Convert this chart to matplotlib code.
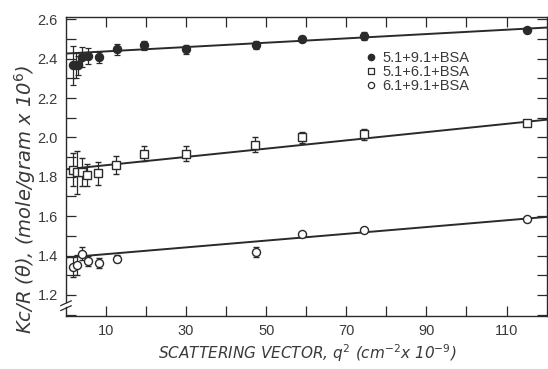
import matplotlib
matplotlib.use("Agg")
import matplotlib.pyplot as plt
import numpy as np
from matplotlib.lines import Line2D

# ---- data ----
labels = ["5.1+9.1+BSA", "5.1+6.1+BSA", "6.1+9.1+BSA"]

x1 = [1.8, 2.5, 3.1, 4.1, 5.5, 8.3, 12.8, 19.4, 30.0, 47.4, 59.0, 74.4, 115.0]
y1 = [2.366, 2.366, 2.366, 2.410, 2.412, 2.406, 2.448, 2.468, 2.448, 2.468, 2.498, 2.515, 2.548]
e1 = [0.10, 0.065, 0.05, 0.05, 0.04, 0.03, 0.028, 0.022, 0.022, 0.02, 0.015, 0.02, 0.008]

x2 = [1.8, 2.7, 3.9, 5.3, 8.0, 12.6, 19.4, 30.0, 47.2, 59.0, 74.4, 115.0]
y2 = [1.837, 1.822, 1.825, 1.808, 1.817, 1.859, 1.918, 1.918, 1.964, 2.000, 2.016, 2.074]
e2 = [0.085, 0.11, 0.07, 0.055, 0.06, 0.045, 0.04, 0.038, 0.036, 0.03, 0.027, 0.015]

x3 = [1.8, 2.8, 3.9, 5.5, 8.3, 12.8, 47.4, 59.0, 74.4, 115.0]
y3 = [1.343, 1.351, 1.410, 1.372, 1.363, 1.385, 1.416, 1.512, 1.529, 1.586]
e3 = [0.05, 0.05, 0.035, 0.027, 0.025, 0.02, 0.025, 0.01, 0.01, 0.008]

fit_intercepts = [2.426, 1.838, 1.390]
fit_slopes = [0.0011, 0.0021, 0.00172]

xticks = [10, 20, 30, 40, 50, 60, 70, 80, 90, 100, 110]
xtick_labels = ["10", "", "30", "", "50", "", "70", "", "90", "", "110"]
yticks = [1.2, 1.4, 1.6, 1.8, 2.0, 2.2, 2.4, 2.6]
ytick_labels = ["1.2", "1.4", "1.6", "1.8", "2.0", "2.2", "2.4", "2.6"]

# ---- figure ----
ink = "#2a2a2a"
txt = "#3a3a3a"
fig = plt.figure(figsize=(5.48, 3.69), dpi=100)
ax = fig.add_axes([0.1204, 0.1436, 0.877, 0.810])
ax.set_xlim(0, 120)
ax.set_ylim(1.093, 2.611)

xx = np.array([0, 120])
for b, m in zip(fit_intercepts, fit_slopes):
    ax.plot(xx, b + m * xx, color=ink, lw=1.4, zorder=2)

common = dict(ls="none", ecolor=ink, elinewidth=0.9, capsize=2.5, capthick=0.9, zorder=3)
ax.errorbar(x1, y1, yerr=e1, fmt="o", ms=5.8, mfc=ink, mec=ink, **common)
ax.errorbar(x2, y2, yerr=e2, fmt="s", ms=5.5, mfc="white", mec=ink, mew=1.0, **common)
ax.errorbar(x3, y3, yerr=e3, fmt="o", ms=5.8, mfc="white", mec=ink, mew=1.0, **common)

# ticks
ax.set_xticks(xticks)
ax.set_xticklabels(xtick_labels, fontfamily="Liberation Sans")
ax.set_yticks(yticks)
ax.set_yticklabels(ytick_labels, fontfamily="Liberation Sans")
ax.set_yticks(np.arange(1.1, 2.61, 0.1), minor=True)
ax.tick_params(axis="both", which="both", direction="in", top=True, right=True,
               colors=ink, labelcolor=txt, labelsize=10.5, width=0.9)
ax.tick_params(axis="both", which="major", length=7, pad=6)
ax.tick_params(axis="y", which="minor", length=7)
for s in ax.spines.values():
    s.set_color(ink)
    s.set_linewidth(1.0)

# axis-break mark on left spine
ax.spines["left"].set_bounds(1.162, 2.611)
ax.plot([0, 0], [1.093, 1.138], color=ink, lw=1.0, clip_on=False, zorder=5)
for yb in (1.133, 1.158):
    ax.plot([-1.3, 1.3], [yb - 0.012, yb + 0.012], color=ink, lw=0.9,
            clip_on=False, zorder=5)

# legend
handles = [
    Line2D([], [], ls="none", marker="o", ms=4.5, mfc=ink, mec=ink),
    Line2D([], [], ls="none", marker="s", ms=4.5, mfc="white", mec=ink, mew=0.9),
    Line2D([], [], ls="none", marker="o", ms=4.5, mfc="white", mec=ink, mew=0.9),
]
leg = ax.legend(handles, labels, loc="upper left", bbox_to_anchor=(0.61, 0.912),
                frameon=False, prop={"family": "Liberation Sans", "size": 10.5},
                handlelength=0.6, handletextpad=0.5,
                labelspacing=0.0, borderpad=0.0, labelcolor=txt)

fig.text(0.56, 0.043, r"SCATTERING VECTOR, $q^2$ (cm$^{-2}$x 10$^{-9}$)", ha="center", va="center",
         fontsize=11, style="italic", color=txt)
fig.text(0.045, 0.46, r"Kc/R ($\theta$), (mole/gram x 10$^6$)", ha="center", va="center",
         rotation=90, fontsize=14, style="italic", color=txt)

fig.savefig("out.png", dpi=100)
